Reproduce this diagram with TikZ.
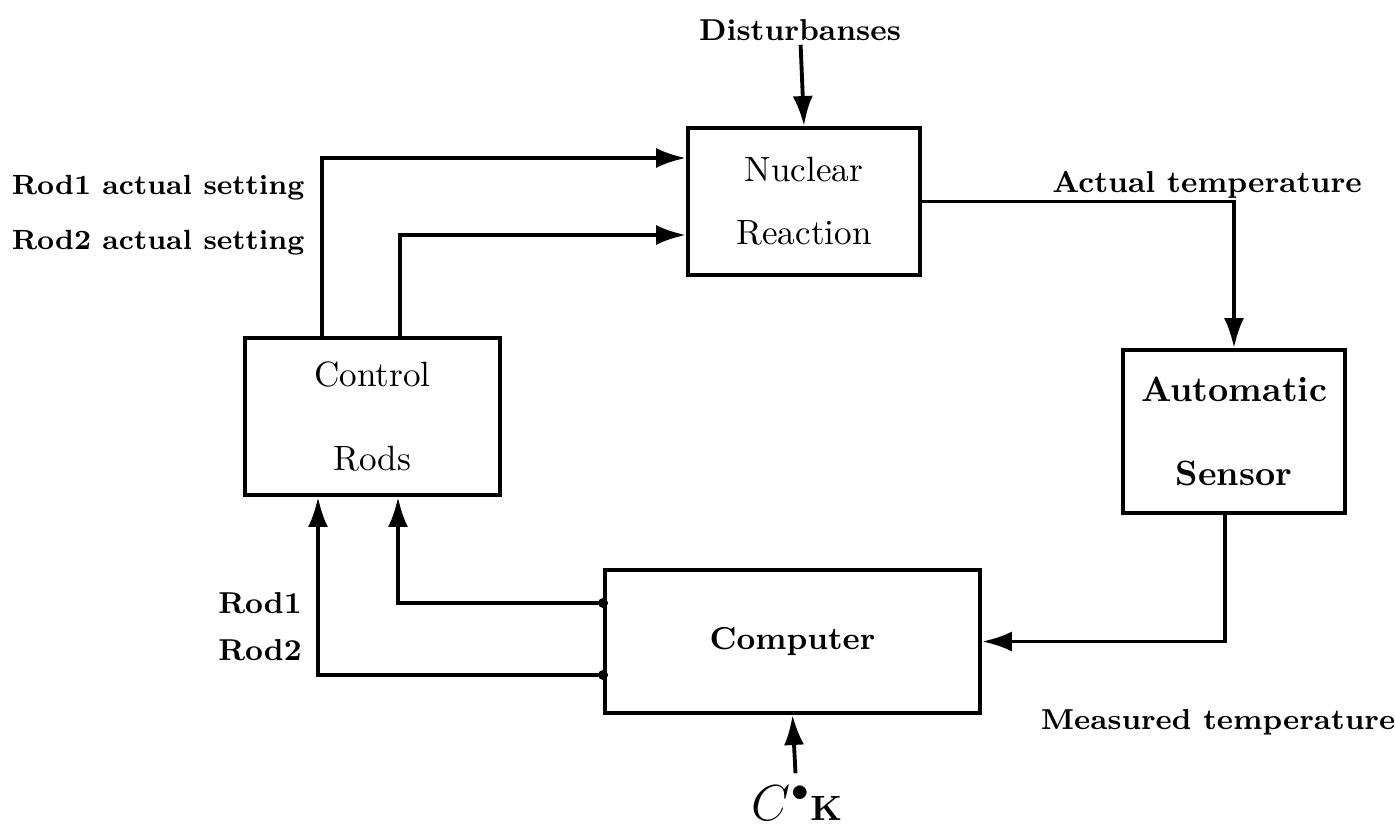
\documentclass[tikz,border=0pt]{standalone}
\usepackage{tikz}
\usetikzlibrary{arrows.meta, positioning}

\begin{document}
\begin{tikzpicture}[
  block/.style={rectangle, draw, line width=1.1pt, align=center, font=\normalsize},
  arrow/.style={-{Latex[length=3mm, width=2mm]}, line width=1.1pt},
  lbl/.style={font=\fontsize{8.6}{10}\selectfont\bfseries, inner sep=1pt},
  sidelbl/.style={font=\fontsize{7.9}{10}\selectfont\bfseries, anchor=east, inner sep=0pt}
  ]
  \useasboundingbox (0,0) rectangle (13.95,8.28);

  % ========== blocks ==========
  \node[block, minimum width=2.32cm, minimum height=1.47cm] (nuc) at (8.04,6.265) {Nuclear\\[6pt]Reaction};
  \node[block, minimum width=2.55cm, minimum height=1.57cm] (ctrl) at (3.725,4.115) {Control\\[12pt]Rods};
  \node[block, minimum width=2.22cm, minimum height=1.63cm] (sens) at (12.34,3.965) {\bfseries Automatic\\[12pt]\bfseries Sensor};
  \node[block, minimum width=3.75cm, minimum height=1.43cm, font=\fontsize{9}{11}\selectfont\bfseries] (comp) at (7.925,1.865) {Computer};

  % ========== inputs / labels ==========
  \node[lbl] (dist) at (8.0,7.98) {Disturbanses};
  \node[font=\Large] (ck) at (7.97,0.25) {$C^{\bullet}{\scriptstyle\mathbf{K}}$};
  \node[sidelbl] (r1set) at (3.05,6.40) {Rod1 actual setting};
  \node[sidelbl] (r2set) at (3.05,5.85) {Rod2 actual setting};
  \node[lbl] (acttemp) at (12.07,6.43) {Actual temperature};
  \node[lbl, font=\fontsize{8.2}{10}\selectfont\bfseries] (meastemp) at (12.18,1.06) {Measured temperature};
  \node[lbl] (rod1) at (2.6,2.25) {Rod1};
  \node[lbl] (rod2) at (2.6,1.78) {Rod2};

  % ========== connectors ==========
  \draw[arrow] (dist) -- (nuc.north);
  \draw[arrow] ([xshift=-0.505cm]ctrl.north) |- ([yshift=0.435cm]nuc.west);
  \draw[arrow] ([xshift=0.275cm]ctrl.north) |- ([yshift=-0.335cm]nuc.west);
  \draw[arrow] (nuc.east) -| (sens.north);
  \draw[arrow] ([xshift=-0.09cm]sens.south) |- (comp.east);
  \draw[arrow] ([yshift=0.385cm]comp.west) -| ([xshift=0.255cm]ctrl.south);
  \draw[arrow] ([yshift=-0.335cm]comp.west) -| ([xshift=-0.545cm]ctrl.south);
  \draw[arrow] (ck) -- (comp.south);
  \fill ([yshift=0.385cm]comp.west) circle (0.05);
  \fill ([yshift=-0.335cm]comp.west) circle (0.05);
\end{tikzpicture}
\end{document}
